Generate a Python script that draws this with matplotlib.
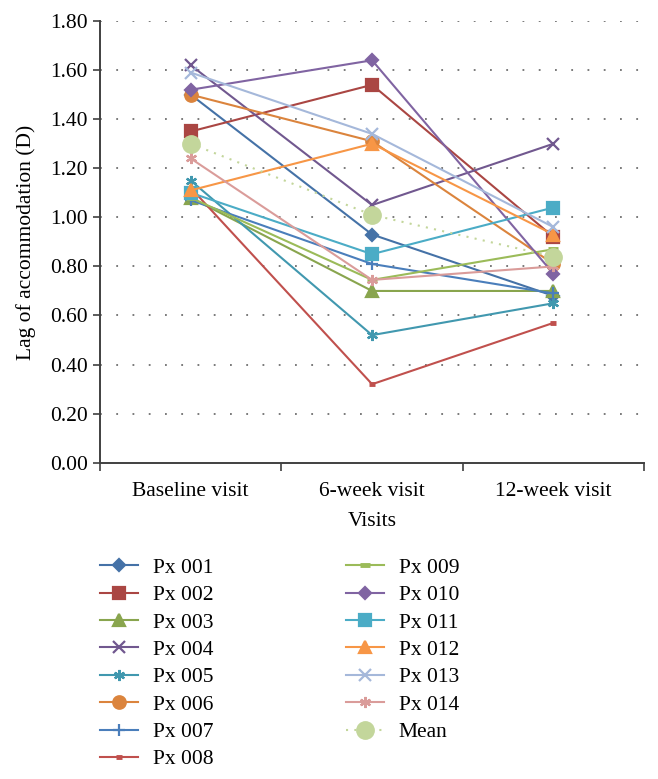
import numpy as np
import matplotlib
matplotlib.use("Agg")
import matplotlib.pyplot as plt

# lag of accommodation per participant (D)
visits = ["Baseline visit", "6-week visit", "12-week visit"]
labels = ["Px 001", "Px 002", "Px 003", "Px 004", "Px 005", "Px 006", "Px 007",
          "Px 008", "Px 009", "Px 010", "Px 011", "Px 012", "Px 013", "Px 014"]
baseline = [1.50, 1.35, 1.08, 1.62, 1.15, 1.50, 1.07, 1.12, 1.08, 1.52, 1.10, 1.11, 1.59, 1.24]
week6 = [0.93, 1.54, 0.70, 1.05, 0.52, 1.31, 0.81, 0.32, 0.745, 1.64, 0.85, 1.30, 1.34, 0.745]
week12 = [0.68, 0.92, 0.70, 1.30, 0.65, 0.81, 0.69, 0.57, 0.87, 0.77, 1.04, 0.93, 0.96, 0.80]
mean_vals = [1.30, 1.01, 0.84]

colors = ["#4572A7", "#AA4643", "#89A54E", "#71588F", "#4198AF", "#DB843D", "#4A7EBB",
          "#C0504D", "#9BBB59", "#8064A2", "#4BACC6", "#F79646", "#A5B8DA", "#DA9C9A"]
markers = ["D", "s", "^", "x", (6, 2, 0), "o", "+", "_", "_", "D", "s", "^", "x", (6, 2, 0)]
msizes = [6, 8, 8, 8, 8, 9, 9, 5, 7, 6, 8, 8, 8, 8]

plt.rcParams["font.family"] = ["Liberation Serif", "DejaVu Serif"]
plt.rcParams["font.size"] = 15.5

fig = plt.figure(figsize=(6.58, 7.79), dpi=100)
ax = fig.add_axes([0.152, 0.406, 0.827, 0.567])

x = np.arange(len(visits))
for i, lab in enumerate(labels):
    mk = markers[i]
    mew = 1.6
    if mk == "_":
        mew = 3.5
    ax.plot(x, [baseline[i], week6[i], week12[i]], color=colors[i], lw=1.5,
            marker=mk, ms=msizes[i], mew=mew, mec=colors[i], mfc=colors[i],
            label=lab, zorder=3)
ax.plot(x, mean_vals, color="#C3D69B", lw=1.5, ls=(0, (1, 3)), marker="o", ms=12.5,
        mec="#C3D69B", mfc="#C3D69B", label="Mean", zorder=4)

ax.set_xlim(-0.5, 2.5)
ax.set_ylim(0, 1.8)
ax.set_yticks(np.arange(0, 1.81, 0.2))
ax.set_yticklabels(["%.2f" % v for v in np.arange(0, 1.81, 0.2)])
ax.set_xticks(x)
ax.set_xticklabels(visits)
ax.set_xticks([-0.5, 0.5, 1.5, 2.5], minor=True)
ax.tick_params(axis="x", which="major", length=0, pad=14)
ax.tick_params(axis="x", which="minor", length=6, width=1.2, color="#404040")
ax.tick_params(axis="y", length=5, width=1.2, color="#404040", pad=4)

for v in np.arange(0.2, 1.81, 0.2):
    ax.axhline(v, color="#707070", lw=1.3, ls=(0, (1, 8)), zorder=1)

for s in ["top", "right"]:
    ax.spines[s].set_visible(False)
for s in ["left", "bottom"]:
    ax.spines[s].set_color("#404040")
    ax.spines[s].set_linewidth(1.4)

ax.set_ylabel("Lag of accommodation (D)", labelpad=10)
ax.set_xlabel("Visits", labelpad=8)

fig.legend(loc="upper left", bbox_to_anchor=(0.123, 0.309), ncol=2, frameon=False,
           handlelength=1.75, labelspacing=0.34, columnspacing=6.15, handletextpad=0.7,
           fontsize=15.5)

fig.savefig("out.png", dpi=100)
